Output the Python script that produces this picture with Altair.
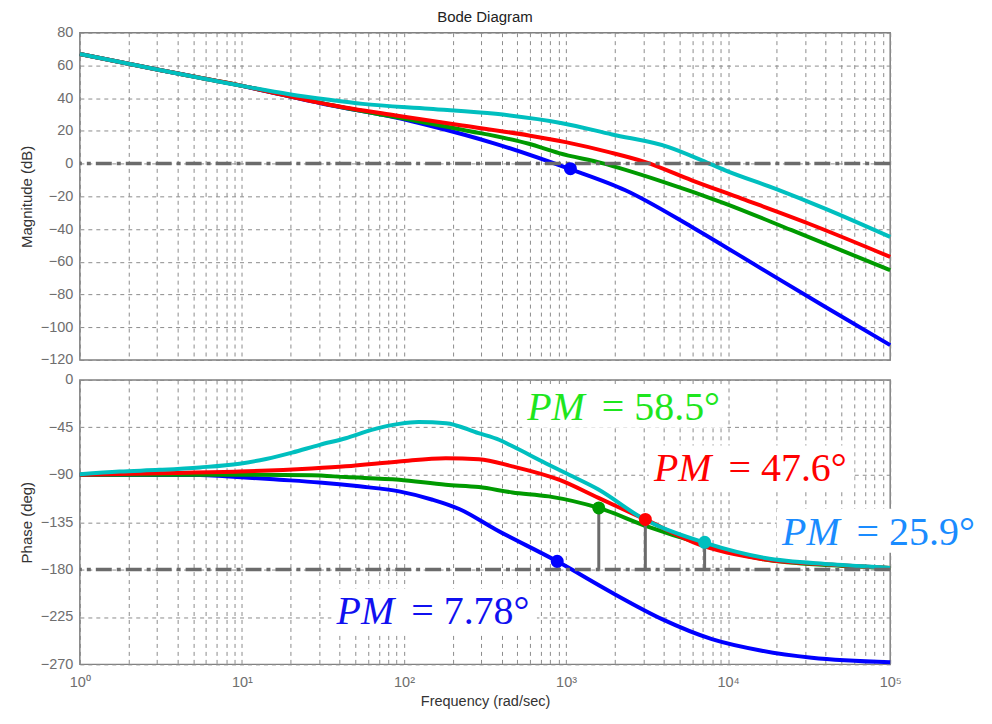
import altair as alt
import pandas as pd

# ---------------- data ----------------
# Magnitude (dB)
blue_mag_w = [1, 3.16, 10, 34.6, 89, 143, 368, 1040, 2323, 5970, 15380, 39630, 100000]
blue_mag = [67, 57, 47.5, 35.8, 28.2, 23.3, 12.1, -3.1, -16.3, -38.7, -63.1, -87.5, -110.9]
green_mag_w = [1, 3.16, 10, 34.6, 89, 229, 589, 904, 1667, 3724, 9594, 24660, 100000]
green_mag = [67, 57, 47.5, 36, 28.4, 20.7, 12.1, 6.4, 0.3, -10.2, -24.4, -40.7, -65.1]
red_mag_w = [1, 3.16, 10, 34.6, 89, 229, 589, 993, 1837, 3083, 5970, 12130, 31260, 100000]
red_mag = [67, 57, 47.5, 36, 29.4, 23.3, 17.2, 13.1, 7.0, 0.9, -10.2, -21.4, -36.6, -57]
cyan_mag_w = [1, 3.16, 10, 19.6, 34.6, 55.6, 143, 368, 946, 1923, 4295, 6887, 9594, 19500, 39630, 100000]
cyan_mag = [67, 57, 47.5, 42.4, 39, 36.5, 33.5, 30.4, 24.7, 17.8, 10.1, 2.0, -4.1, -15.3, -27.5, -44.8]

# Phase (deg)
blue_ph_w = [1, 5.5, 7.94, 17.1, 30.1, 53, 93.3, 150, 219, 368, 881, 1923, 3908, 7943, 16140, 32810, 100000]
blue_ph = [-90, -90.3, -91.5, -94.7, -97.3, -101, -105.8, -113.7, -122.5, -142, -172.2, -202, -227, -246, -257, -263.7, -268]
green_ph_w = [1, 10, 26.9, 43.7, 93.3, 181, 290, 466, 782, 1592, 3162, 6577, 16900, 43650, 100000]
green_ph = [-90, -90, -90.5, -92.2, -94.7, -99.5, -101.7, -106.8, -110.5, -121.5, -139, -154.7, -170.5, -176, -178.5]
red_ph_w = [1, 3.09, 9.66, 26.9, 43.7, 93.3, 181, 290, 466, 904, 1585, 3083, 6577, 16900, 43650, 100000]
red_ph = [-90, -88.5, -87, -84, -82, -77.4, -74.3, -75.2, -82, -94.7, -112, -132.4, -156, -170.5, -175.5, -178.5]
cyan_ph_w = [1, 1.76, 3.09, 5.5, 9.66, 14.1, 20.4, 30.2, 43.7, 63.1, 93.3, 123, 182, 288, 389, 468, 748, 993,
             1585, 2944, 7228, 16900, 43650, 100000]
cyan_ph = [-89.5, -87, -85.3, -83, -79.5, -75, -69, -61.6, -55.3, -47.4, -41.7, -40, -41, -50.5, -57, -63, -79,
           -88.4, -104, -131, -154.7, -169, -175, -178.4]

# phase-margin points (green, red, cyan, blue)
pm_w = [1592, 3085, 7160, 882]
pm_ph = [-121.5, -132.4, -154.1, -172.2]
pm_base = [-180, -180, -180, -180]
# gain-margin point (blue)
gm_w = [1064]
gm_mag = [-3.1]

# annotation labels (green, red, cyan, blue)
pm_text = ["= 58.5\u00b0", "= 47.6\u00b0", "= 25.9\u00b0", "= 7.78\u00b0"]
pm_text_w = [2302, 13930, 86000, 153.5]
pm_text_ph = [-24.6, -83.1, -143.1, -218.8]

x_ticks = [1, 2, 3, 4, 5, 6, 7, 8, 9, 10, 20, 30, 40, 50, 60, 70, 80, 90,
           100, 200, 300, 400, 500, 600, 700, 800, 900,
           1000, 2000, 3000, 4000, 5000, 6000, 7000, 8000, 9000,
           10000, 20000, 30000, 40000, 50000, 60000, 70000, 80000, 90000, 100000]
mag_ticks = [80, 60, 40, 20, 0, -20, -40, -60, -80, -100, -120]
ph_ticks = [0, -45, -90, -135, -180, -225, -270]

# ---------------- styles ----------------
line_colors = {"blue": "#0000ff", "green": "#009a00", "red": "#ff0000", "cyan": "#00bfbf"}
pm_dot_colors = ["#009a00", "#ff0000", "#00bfbf", "#0000ff"]
pm_text_colors = ["#1ee61e", "#ff0000", "#1a8cff", "#1010f0"]
gray = "#6b6b6b"

x_scale = alt.Scale(type="log", domain=[1, 100000], nice=False)
mag_scale = alt.Scale(domain=[-120, 80], nice=False, zero=False)
ph_scale = alt.Scale(domain=[-270, 0], nice=False, zero=False)

x_top = alt.X("w:Q", scale=x_scale,
              axis=alt.Axis(values=x_ticks, labels=False, title=None, grid=True))
label_expr = ("indexof([1,10,100,1000,10000,100000], datum.value) >= 0 ? "
              "'10' + ['\u2070','\u00b9','\u00b2','\u00b3','\u2074','\u2075'][round(log(datum.value)/LN10)] : ''")
x_bot = alt.X("w:Q", scale=x_scale,
              axis=alt.Axis(values=x_ticks, labelExpr=label_expr, labelOverlap=False, labelFlush=False,
                            title="Frequency  (rad/sec)", labelPadding=11, titlePadding=6,
                            titleFontSize=14.5, grid=True))
y_mag = alt.Y("v:Q", scale=mag_scale,
              axis=alt.Axis(values=mag_ticks, title="Magnitude (dB)", labelPadding=7, titlePadding=6))
y_ph = alt.Y("v:Q", scale=ph_scale,
             axis=alt.Axis(values=ph_ticks, title="Phase (deg)", labelPadding=7, titlePadding=6))


def df(w, v, **extra):
    d = pd.DataFrame({"w": w, "v": v})
    for k, val in extra.items():
        d[k] = val
    return d


mag_series = [("blue", blue_mag_w, blue_mag), ("green", green_mag_w, green_mag),
              ("red", red_mag_w, red_mag), ("cyan", cyan_mag_w, cyan_mag)]
ph_series = [("blue", blue_ph_w, blue_ph), ("green", green_ph_w, green_ph),
             ("red", red_ph_w, red_ph), ("cyan", cyan_ph_w, cyan_ph)]

mag_layers = [
    alt.Chart(df(w, v)).mark_line(color=line_colors[n], strokeWidth=4, interpolate="monotone")
    .encode(x=x_top, y=y_mag)
    for n, w, v in mag_series
]
zero_rule = alt.Chart(pd.DataFrame({"v": [0]})).mark_rule(
    color=gray, strokeWidth=3.5, strokeDash=[16, 5, 4, 5]).encode(y=y_mag)
gm_dot = alt.Chart(df(gm_w, gm_mag)).mark_circle(size=170, opacity=1, color="#0000ff").encode(x=x_top, y=y_mag)

top = alt.layer(*mag_layers, zero_rule, gm_dot).properties(
    width=812, height=328,
    title=alt.TitleParams("Bode Diagram", frame="group", anchor="middle", offset=0,
                          fontSize=15, font="Liberation Sans", fontWeight="normal", color="#222"))

box_df = df(pm_text_w, pm_text_ph, t=pm_text, c=pm_text_colors)
boxes = alt.Chart(box_df).mark_rect(color="white", width=206, height=44, opacity=1).encode(x=x_bot, y=y_ph)
ph_layers = [
    alt.Chart(df(w, v)).mark_line(color=line_colors[n], strokeWidth=4, interpolate="monotone")
    .encode(x=x_bot, y=y_ph)
    for n, w, v in ph_series
]
m180_rule = alt.Chart(pd.DataFrame({"v": [-180]})).mark_rule(
    color=gray, strokeWidth=3.5, strokeDash=[16, 5, 4, 5]).encode(y=y_ph)
pm_df = df(pm_w, pm_ph, base=pm_base, c=pm_dot_colors)
stems = alt.Chart(pm_df).mark_rule(color=gray, strokeWidth=3).encode(x=x_bot, y=y_ph, y2="base:Q")
pm_dots = alt.Chart(pm_df).mark_circle(size=170, opacity=1).encode(
    x=x_bot, y=y_ph, color=alt.Color("c:N", scale=None))
txt_pm = alt.Chart(box_df).mark_text(
    font="Liberation Serif", fontStyle="italic", fontSize=40, align="right", baseline="alphabetic",
    dx=-40, dy=14).encode(x=x_bot, y=y_ph, text=alt.value("PM"), color=alt.Color("c:N", scale=None))
txt_val = alt.Chart(box_df).mark_text(
    font="Liberation Serif", fontSize=40, align="left", baseline="alphabetic",
    dx=-23, dy=14).encode(x=x_bot, y=y_ph, text="t:N", color=alt.Color("c:N", scale=None))

bottom = alt.layer(boxes, *ph_layers, m180_rule, stems, pm_dots, txt_pm, txt_val).properties(
    width=812, height=285)

chart = alt.vconcat(top, bottom, spacing=20, bounds="flush").properties(
    padding={"left": 10, "top": 0, "right": 0, "bottom": 0}
).configure_view(
    stroke="#808080", strokeWidth=1.5
).configure_axis(
    labelFont="Liberation Sans", labelFontSize=14.5, labelColor="#6e6e6e",
    titleFont="Liberation Sans", titleFontSize=15, titleFontWeight="normal", titleColor="#333333",
    gridColor="#8c8c8c", gridDash=[4, 4], gridWidth=1, gridOpacity=1,
    domain=False, ticks=False
)

chart.save("out.html", embed_options={"renderer": "svg", "actions": False})
